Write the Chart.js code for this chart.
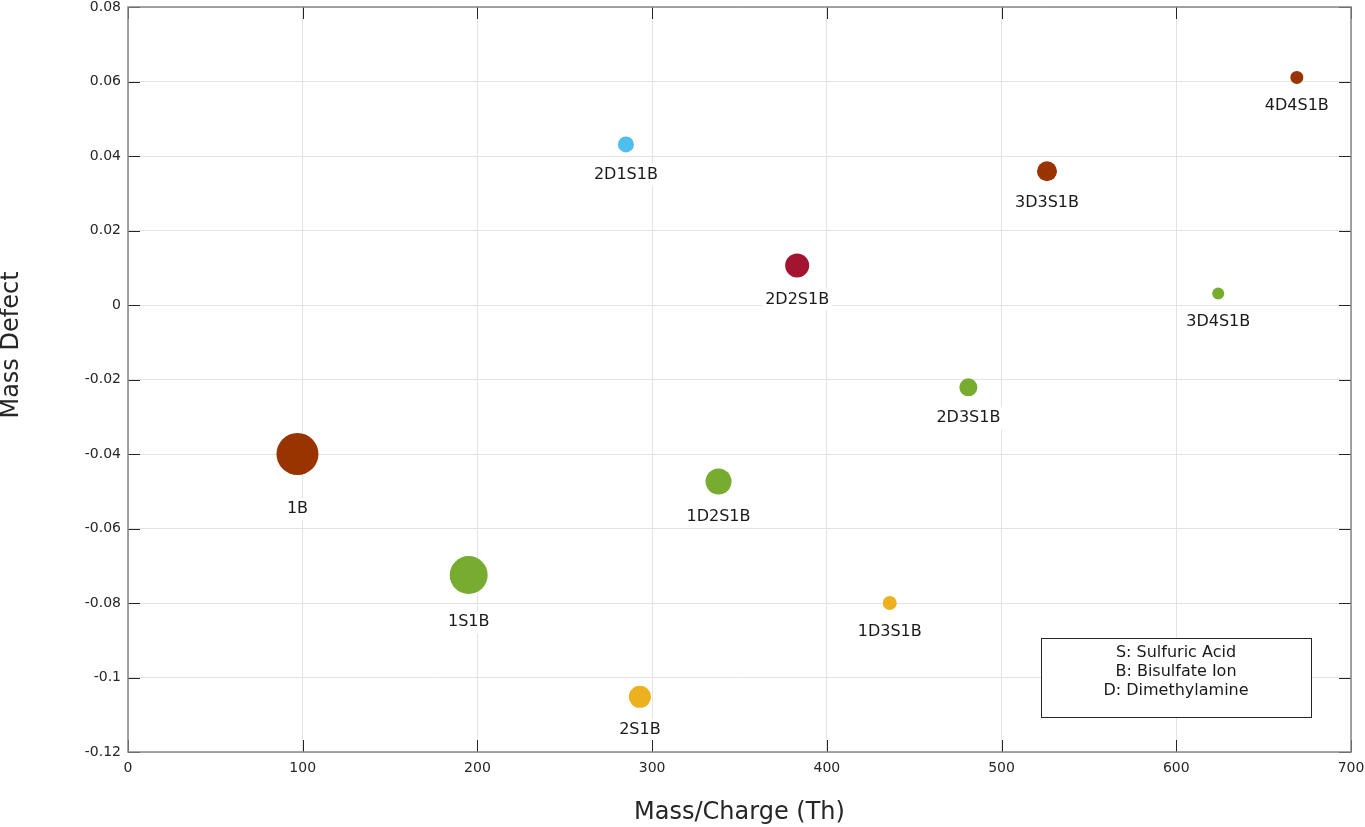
<!DOCTYPE html>
<html>
<head>
<meta charset="utf-8">
<script src="https://cdn.jsdelivr.net/npm/chart.js@4/dist/chart.umd.min.js"></script>
<style>
  html, body { margin: 0; padding: 0; background: #fff; }
  #wrap { width: 1365px; height: 827px; }
</style>
</head>
<body>
<div id="wrap"><canvas id="massChart"></canvas></div>
<script>
// cluster names, m/z, mass defect, marker radius
const clusterNames = ["1B", "1S1B", "2S1B", "1D2S1B", "2D1S1B", "2D2S1B", "1D3S1B", "2D3S1B", "3D3S1B", "3D4S1B", "4D4S1B"];
const massCharge = [97, 195, 293, 338, 285, 383, 436, 481, 526, 624, 669];
const massDefect = [-0.040, -0.0725, -0.1052, -0.0474, 0.0431, 0.0106, -0.0800, -0.0221, 0.0359, 0.0031, 0.0611];
const bubbleRadius = [21, 19, 11, 13, 8, 12, 7, 9, 10, 6, 6.5];
const pointColors = ["#993300", "#77AC30", "#EDB120", "#77AC30", "#4DBEEE", "#A2142F", "#EDB120", "#77AC30", "#993300", "#77AC30", "#993300"];

const xTitle = "Mass/Charge (Th)";
const yTitle = "Mass Defect";
const noteLines = ["S: Sulfuric Acid", "B: Bisulfate Ion", "D: Dimethylamine"];

const FONT = "'DejaVu Sans', sans-serif";

// labels under each bubble with white background
const pointLabels = {
    id: 'pointLabels',
    afterDatasetsDraw(chart) {
        const ctx = chart.ctx;
        const meta = chart.getDatasetMeta(0);
        ctx.save();
        ctx.font = "16px " + FONT;
        ctx.textAlign = "center";
        ctx.textBaseline = "middle";
        meta.data.forEach((el, i) => {
            const r = bubbleRadius[i];
            const x = el.x;
            const y = el.y + r + 22 + (r > 20 ? 12 : r > 15 ? 6 : 0);
            const w = ctx.measureText(clusterNames[i]).width;
            ctx.fillStyle = "#fff";
            ctx.fillRect(x - w / 2 - 3, y - 11, w + 6, 22);
            ctx.fillStyle = "#1a1a1a";
            ctx.fillText(clusterNames[i], x, y);
        });
        ctx.restore();
    }
};

// box, inside ticks, titles, note box
const frame = {
    id: 'frame',
    afterDraw(chart) {
        const ctx = chart.ctx;
        const a = chart.chartArea;
        const xs = chart.scales.x, ys = chart.scales.y;
        ctx.save();
        ctx.strokeStyle = "#262626";
        ctx.lineWidth = 1;
        ctx.beginPath();
        xs.ticks.forEach(t => {
            const px = Math.round(xs.getPixelForValue(t.value)) + 0.5;
            ctx.moveTo(px, a.bottom); ctx.lineTo(px, a.bottom - 12);
            ctx.moveTo(px, a.top); ctx.lineTo(px, a.top + 12);
        });
        ys.ticks.forEach(t => {
            const py = Math.round(ys.getPixelForValue(t.value)) + 0.5;
            ctx.moveTo(a.left, py); ctx.lineTo(a.left + 12, py);
            ctx.moveTo(a.right, py); ctx.lineTo(a.right - 12, py);
        });
        ctx.stroke();

        ctx.strokeStyle = "#868686";
        ctx.lineWidth = 1.5;
        ctx.strokeRect(a.left, a.top, a.right - a.left, a.bottom - a.top);

        // axis titles
        ctx.fillStyle = "#262626";
        ctx.font = "24px " + FONT;
        ctx.textAlign = "center";
        ctx.textBaseline = "middle";
        ctx.fillText(xTitle, (a.left + a.right) / 2, 813);
        ctx.save();
        ctx.translate(12, 345);
        ctx.rotate(-Math.PI / 2);
        ctx.fillText(yTitle, 0, 0);
        ctx.restore();

        // annotation box
        const bx = a.right - 310, by = a.bottom - 114, bw = 270, bh = 79;
        ctx.fillStyle = "#fff";
        ctx.fillRect(bx, by, bw, bh);
        ctx.strokeStyle = "#262626";
        ctx.lineWidth = 1;
        ctx.strokeRect(bx + 0.5, by + 0.5, bw, bh);
        ctx.fillStyle = "#1a1a1a";
        ctx.font = "16px " + FONT;
        noteLines.forEach((line, i) => {
            ctx.fillText(line, bx + bw / 2, by + 15 + i * 19);
        });
        ctx.restore();
    }
};

new Chart(document.getElementById('massChart'), {
    type: 'bubble',
    data: {
        datasets: [{
            data: massCharge.map((m, i) => ({ x: m, y: massDefect[i], r: bubbleRadius[i] })),
            backgroundColor: pointColors,
            borderColor: pointColors,
            borderWidth: 0,
            hoverRadius: 0
        }]
    },
    options: {
        responsive: true,
        maintainAspectRatio: false,
        animation: false,
        layout: { autoPadding: false, padding: { top: 7, right: 14, left: 0, bottom: 0 } },
        plugins: {
            legend: { display: false },
            tooltip: { enabled: false }
        },
        scales: {
            x: {
                type: 'linear',
                min: 0, max: 700,
                ticks: { stepSize: 100, color: "#262626", font: { family: FONT, size: 14 }, padding: 8 },
                grid: { color: "#e3e3e3", drawTicks: false },
                border: { display: false },
                afterFit(s) { s.height = 75; s.paddingLeft = 0; s.paddingRight = 0; }
            },
            y: {
                type: 'linear',
                min: -0.12, max: 0.08,
                ticks: {
                    stepSize: 0.02,
                    color: "#262626",
                    font: { family: FONT, size: 14 },
                    padding: 7,
                    callback: v => String(Number(v.toFixed(2)))
                },
                grid: { color: "#e3e3e3", drawTicks: false },
                border: { display: false },
                afterFit(s) { s.width = 128; s.paddingTop = 0; s.paddingBottom = 0; }
            }
        }
    },
    plugins: [pointLabels, frame]
});
</script>
</body>
</html>
